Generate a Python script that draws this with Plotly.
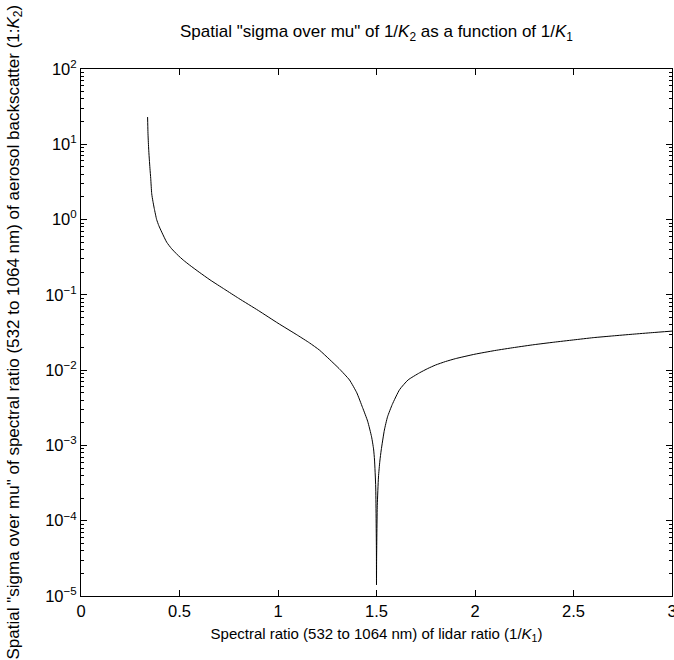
import plotly.graph_objects as go

# Spectral ratio of lidar ratio (1/K1)
x_vals = [0.338, 0.339, 0.340, 0.342, 0.344, 0.347, 0.350, 0.354, 0.359, 0.365,
          0.372, 0.384, 0.395, 0.41, 0.435, 0.46, 0.49, 0.519, 0.55, 0.60,
          0.655, 0.73, 0.80, 0.90, 1.00, 1.10, 1.16, 1.21, 1.26, 1.31,
          1.363, 1.40, 1.429, 1.455, 1.475, 1.485, 1.49, 1.496, 1.4995, 1.5,
          1.5005, 1.504, 1.51, 1.517, 1.524, 1.54, 1.556, 1.58, 1.617, 1.66,
          1.718, 1.76, 1.80, 1.85, 1.90, 2.0, 2.1, 2.2, 2.3, 2.4,
          2.5, 2.6, 2.7, 2.8, 2.9, 3.0]
# Spatial sigma over mu of 1/K2
y_vals = [23, 18, 14, 10.5, 8.2, 6.2, 4.8, 3.5, 2.2, 1.75,
          1.4, 1.0, 0.83, 0.68, 0.50, 0.41, 0.34, 0.29, 0.25, 0.20,
          0.158, 0.118, 0.090, 0.062, 0.042, 0.029, 0.023, 0.0185, 0.0140, 0.0105,
          0.0074, 0.0050, 0.0032, 0.0021, 0.0013, 9e-4, 6.4e-4, 2.8e-4, 4e-5, 1.4e-5,
          3e-5, 1.6e-4, 3.8e-4, 6.2e-4, 8.7e-4, 1.6e-3, 2.4e-3, 3.5e-3, 5.5e-3, 7.4e-3,
          9.2e-3, 0.0105, 0.0117, 0.0130, 0.0142, 0.0163, 0.0182, 0.020, 0.0218, 0.0235,
          0.0252, 0.027, 0.0285, 0.030, 0.0315, 0.033]

x_ticks = [0, 0.5, 1, 1.5, 2, 2.5, 3]
x_ticktext = ["0", "0.5", "1", "1.5", "2", "2.5", "3"]
y_exponents = [-5, -4, -3, -2, -1, 0, 1, 2]

y_ticks = [10.0 ** e for e in y_exponents]
y_ticktext = ["10<sup>%s</sup>" % (str(e).replace("-", "\u2212")) for e in y_exponents]

FONT = "Liberation Sans, Arial, Helvetica, sans-serif"

fig = go.Figure()
fig.add_trace(go.Scatter(x=x_vals, y=y_vals, mode="lines",
                         line=dict(color="black", width=1, shape="spline", smoothing=0.5),
                         showlegend=False))

fig.update_layout(
    width=674, height=660,
    margin=dict(l=81, r=2, t=69, b=64, autoexpand=False),
    paper_bgcolor="white", plot_bgcolor="white",
    font=dict(family=FONT, size=15, color="black"),
    title=dict(text='Spatial "sigma over mu" of 1/<i>K</i><sub>2</sub> as a function of 1/<i>K</i><sub>1</sub>',
               x=0.5, xref="paper", xanchor="center",
               y=1, yref="paper", yanchor="bottom", pad=dict(b=32),
               font=dict(family=FONT, size=17, color="black")),
    annotations=[dict(
        text='Spatial "sigma over mu" of spectral ratio (532 to 1064 nm) of aerosol backscatter (1:<i>K</i><sub>2</sub>)',
        x=0, xref="paper", y=0.5, yref="paper", xanchor="center", yanchor="middle",
        xshift=-67, textangle=-90, showarrow=False,
        font=dict(family=FONT, size=17, color="black"))],
)

fig.update_xaxes(
    range=[0, 3], tickmode="array", tickvals=x_ticks, ticktext=x_ticktext,
    showline=True, linecolor="black", linewidth=1, mirror="ticks",
    ticks="inside", ticklen=6, tickcolor="black", tickwidth=1,
    showgrid=False, zeroline=False, ticklabeloverflow="allow", automargin=False,
    tickfont=dict(family=FONT, size=16.5, color="black"),
    title=dict(text="Spectral ratio (532 to 1064 nm) of lidar ratio (1/<i>K</i><sub>1</sub>)",
               font=dict(family=FONT, size=15, color="black"), standoff=9),
)

fig.update_yaxes(
    type="log", range=[-5, 2], tickmode="array", tickvals=y_ticks, ticktext=y_ticktext,
    showline=True, linecolor="black", linewidth=1, mirror="ticks",
    ticks="inside", ticklen=6, tickcolor="black", tickwidth=1,
    minor=dict(ticks="inside", ticklen=3, dtick="D1", tickcolor="black", showgrid=False),
    showgrid=False, zeroline=False, ticklabeloverflow="allow", automargin=False,
    tickfont=dict(family=FONT, size=16.5, color="black"),
)

fig.write_html("out.html")
